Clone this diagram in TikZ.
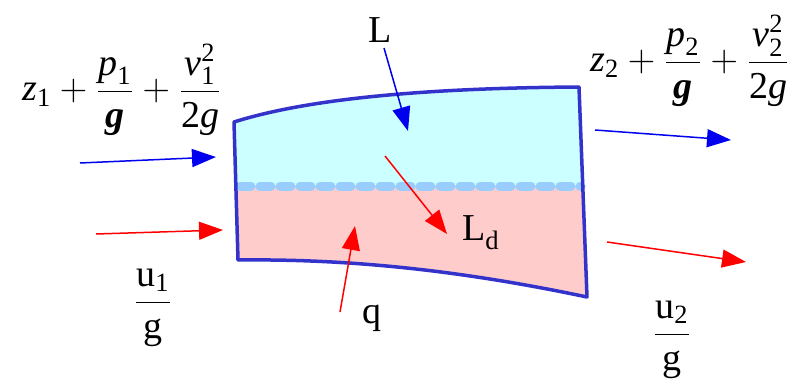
\documentclass[tikz,border=0pt]{standalone}
\usepackage{amsmath}
\usepackage{graphicx}
\usepackage{fontspec}
\setmainfont{Liberation Serif}
\usetikzlibrary{arrows.meta}
\definecolor{edgeblue}{HTML}{3333CC}
\definecolor{topfill}{HTML}{CCFFFF}
\definecolor{botfill}{HTML}{FFCCCC}
\definecolor{dashblue}{HTML}{99CCFF}
\definecolor{arrblue}{HTML}{0000EE}
\definecolor{arrred}{HTML}{FF0000}
\newcommand{\itv}[1]{\textit{#1}}
\newcommand{\bigmath}[1]{\scalebox{2.2}{$#1$}}
\begin{document}
\begin{tikzpicture}[x=1pt,y=-1pt,
  lbl/.style={inner sep=0pt,font=\fontsize{38}{44}\selectfont},
  mlbl/.style={inner sep=0pt,font=\fontsize{17.28}{20}\selectfont},
  flow/.style={line width=1.5pt,-{Triangle[length=24pt,width=18pt]}},
  border/.style={draw=edgeblue,line width=3.5pt,line join=round}]
\useasboundingbox (0,0) rectangle (803,385);
% corners
\coordinate (tl) at (234,122);
\coordinate (tr) at (579,87);
\coordinate (br) at (587,297);
\coordinate (bl) at (238,260);
% fills
\begin{scope}
\clip (tl) .. controls (310,98) and (430,88) .. (tr) -- (br) .. controls (440,266) and (330,259) .. (bl) -- cycle;
\fill[topfill] (200,60) rectangle (620,186);
\fill[botfill] (200,186) rectangle (620,320);
\end{scope}
\coordinate (dl) at (240,186);
\coordinate (dr) at (581,186);
\draw[dashblue,line width=9pt,line cap=round,dash pattern=on 11pt off 9pt] (dl) -- (dr);
\draw[border] (tl) .. controls (310,98) and (430,88) .. (tr) -- (br) .. controls (440,266) and (330,259) .. (bl) -- cycle;
% labels
\node[mlbl,anchor=base] (f1) at (122,101) {\bigmath{\itv{z}_{\text{1}}+\dfrac{\itv{p}_{\text{1}}}{\textbf{\textit{g}}}+\dfrac{\itv{v}_{\text{1}}^{\text{2}}}{\text{2}\itv{g}}}};
\node[mlbl,anchor=base] (f2) at (690,72) {\bigmath{\itv{z}_{\text{2}}+\dfrac{\itv{p}_{\text{2}}}{\textbf{\textit{g}}}+\dfrac{\itv{v}_{\text{2}}^{\text{2}}}{\text{2}\itv{g}}}};
\node[mlbl,anchor=base] (u1) at (153,312) {\bigmath{\dfrac{\text{u}_{\text{1}}}{\text{g}}}};
\node[mlbl,anchor=base] (u2) at (672,344) {\bigmath{\dfrac{\text{u}_{\text{2}}}{\text{g}}}};
\node[lbl] (L) at (380,30) {L};
\node[lbl,anchor=base west] (Ld) at (462,240) {L\textsubscript{d}};
\node[lbl] (q) at (372,318) {q};
% arrow endpoints
\coordinate (a1s) at (80,163);  \coordinate (a1e) at (216,157);
\coordinate (a2s) at (96,234);  \coordinate (a2e) at (223,230);
\coordinate (a3s) at (595,130); \coordinate (a3e) at (731,140);
\coordinate (a4s) at (607,242); \coordinate (a4e) at (746,262);
\coordinate (aLs) at (384,48);  \coordinate (aLe) at (408,131);
\coordinate (aDs) at (385,156); \coordinate (aDe) at (447,234);
\coordinate (aqs) at (340,312); \coordinate (aqe) at (355,226);
\draw[flow,arrblue] (a1s) -- (a1e);
\draw[flow,arrred] (a2s) -- (a2e);
\draw[flow,arrblue] (a3s) -- (a3e);
\draw[flow,arrred] (a4s) -- (a4e);
\draw[flow,arrblue] (aLs) -- (aLe);
\draw[flow,arrred] (aDs) -- (aDe);
\draw[flow,arrred] (aqs) -- (aqe);
\end{tikzpicture}
\end{document}
